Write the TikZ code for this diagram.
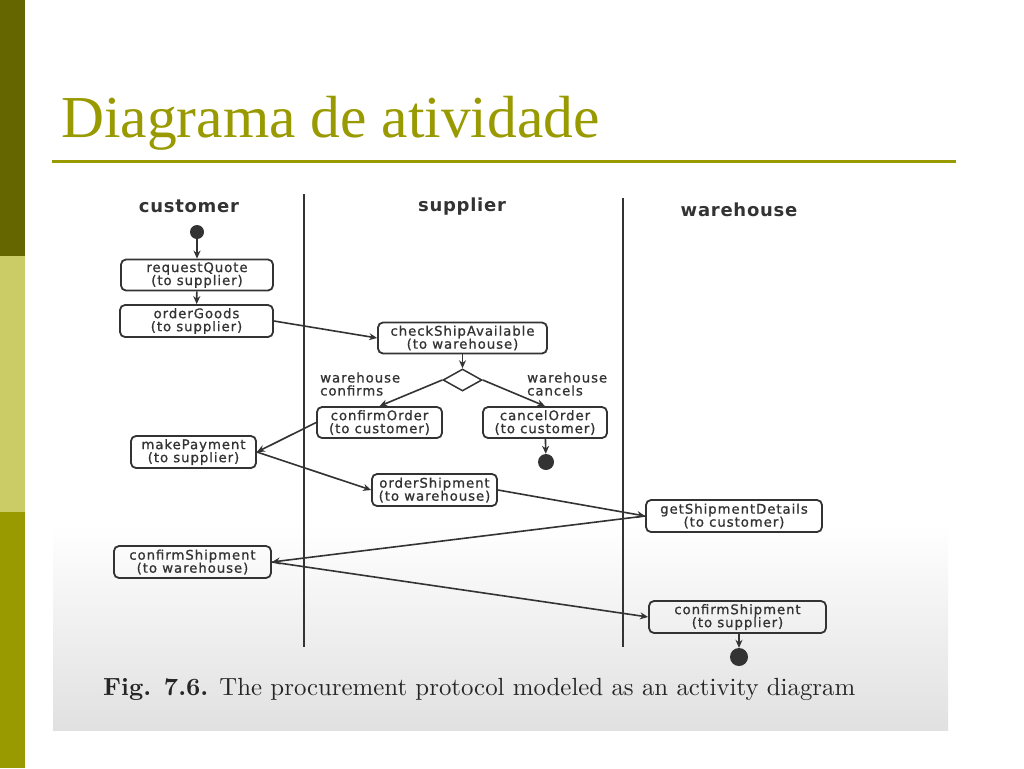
\documentclass[tikz,border=0pt]{standalone}
\usepackage{fontspec}
\usetikzlibrary{arrows.meta,shapes.geometric}
\newfontfamily\dgfont[LetterSpace=7,FakeBold=0.9]{DejaVu Sans}
\newfontfamily\hdfont[LetterSpace=4]{DejaVu Sans}
\newfontfamily\titlefont{Liberation Serif}
\definecolor{olivedark}{HTML}{666600}
\definecolor{olivelight}{HTML}{CCCC66}
\definecolor{olivemid}{HTML}{999900}
\definecolor{ink}{HTML}{333333}
\tikzset{
  act/.style={draw=ink, line width=1.8pt, rounded corners=5pt, align=center,
    font=\dgfont\fontsize{13.3}{13}\selectfont, inner sep=0pt, text=ink},
  lane/.style={font=\hdfont\bfseries\fontsize{18}{18}\selectfont, text=ink, inner sep=0pt},
  guard/.style={font=\dgfont\fontsize{13.3}{13}\selectfont, text=ink, align=left, inner sep=0pt, anchor=west},
  flow/.style={draw=ink, line width=1.6pt, -{Stealth[length=8pt,width=7pt]}},
  dot/.style={circle, fill=ink, inner sep=0pt},
  lanerule/.style={draw=ink, line width=2pt}
}
\begin{document}
\begin{tikzpicture}[x=1pt,y=-1pt]
\useasboundingbox (0,0) rectangle (1024,768);
\fill[white] (0,0) rectangle (1024,768);
% side bar
\fill[olivedark] (0,0) rectangle (25,256);
\fill[olivelight] (0,256) rectangle (25,512);
\fill[olivemid] (0,512) rectangle (25,768);
% title
\node[anchor=base west, inner sep=0pt, text=olivemid, font=\titlefont\fontsize{59.5}{59.5}\selectfont] (title) at (61,137) {Diagrama de atividade};
\draw[olivemid, line width=3pt] (52,161) -- (956,161);
% scanned page tint
\shade[top color=white, bottom color=black!12] (53,525) rectangle (948,730);
% lanes
\draw[lanerule] (304,194) -- (304,647);
\draw[lanerule] (623,198) -- (623,647);
\node[lane] (hcust) at (189,206) {customer};
\node[lane] (hsup) at (462,207) {supplier};
\node[lane] (hwh) at (739,210) {warehouse};
% nodes
\node[dot, minimum size=14pt] (start) at (197,232) {};
\node[act, minimum width=152pt, minimum height=31pt] (rq) at (197,275) {requestQuote\\(to supplier)};
\node[act, minimum width=153pt, minimum height=32pt] (og) at (196.5,321) {orderGoods\\(to supplier)};
\node[act, minimum width=169pt, minimum height=31pt] (csa) at (462.5,338) {checkShipAvailable\\(to warehouse)};
\node[diamond, draw=ink, line width=1.5pt, minimum width=39pt, minimum height=22pt, inner sep=0pt] (dia) at (462.5,380) {};
\node[act, minimum width=125pt, minimum height=31pt] (co) at (379.5,422.5) {confirmOrder\\(to customer)};
\node[act, minimum width=124pt, minimum height=31pt] (cx) at (545,422.5) {cancelOrder\\(to customer)};
\node[dot, minimum size=16pt] (f1) at (546,462) {};
\node[act, minimum width=125pt, minimum height=32pt] (mp) at (193.5,452) {makePayment\\(to supplier)};
\node[act, minimum width=125pt, minimum height=32pt] (os) at (434.5,490) {orderShipment\\(to warehouse)};
\node[act, minimum width=176pt, minimum height=32pt] (gsd) at (734,516) {getShipmentDetails\\(to customer)};
\node[act, minimum width=157pt, minimum height=32pt] (csw) at (192.5,562) {confirmShipment\\(to warehouse)};
\node[act, minimum width=177pt, minimum height=32pt] (css) at (737.5,617) {confirmShipment\\(to supplier)};
\node[dot, minimum size=18pt] (f2) at (739,657) {};
% guards
\node[guard] (gconf) at (320,384) {warehouse\\confirms};
\node[guard] (gcanc) at (527,384) {warehouse\\cancels};
% flows
\draw[flow] (start) -- (rq);
\draw[flow] (rq) -- (og);
\draw[flow] (og.east) -- (csa.west);
\draw[flow] (csa) -- (dia);
\draw[flow] (dia.west) -- (co.north);
\draw[flow] (dia.east) -- (cx.north);
\draw[flow] (cx) -- (f1);
\draw[flow] (co.west) -- (mp.east);
\draw[flow] (mp.east) -- (os.west);
\draw[flow] (os.east) -- (gsd.west);
\draw[flow] (gsd.west) -- (csw.east);
\draw[flow] (csw.east) -- (css.west);
\draw[flow] (css.south -| f2) -- (f2);
% caption
\node[anchor=base west, inner sep=0pt, text=black!85] (cap) at (103,695) {\resizebox{752pt}{!}{\textbf{Fig. 7.6.} The procurement protocol modeled as an activity diagram}};
\end{tikzpicture}
\end{document}
